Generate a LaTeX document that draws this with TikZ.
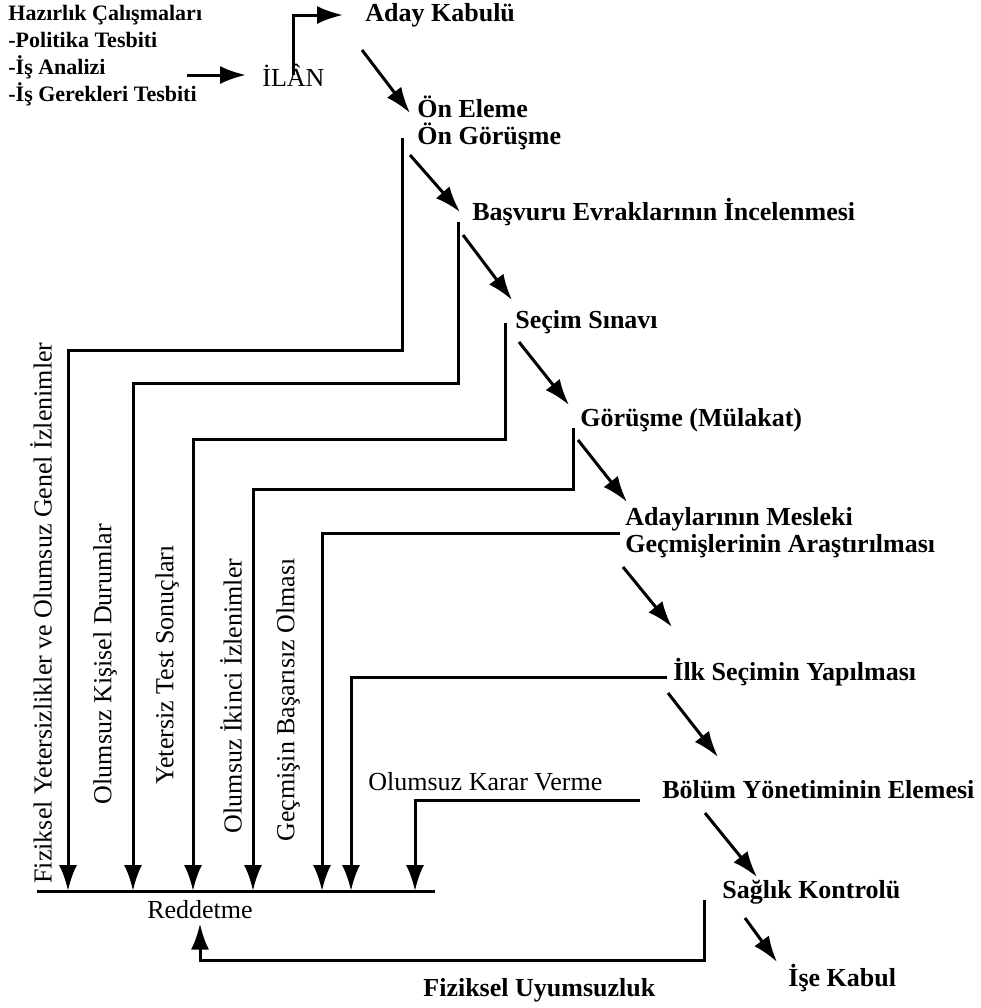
\documentclass[tikz,border=0pt]{standalone}
\usepackage{fontspec}
\setmainfont{Liberation Serif}
\usetikzlibrary{arrows.meta}

\begin{document}
\begin{tikzpicture}[x=0.5pt, y=-0.5pt]
		\tikzstyle{note}=[inner sep=0pt, font=\fontsize{13}{15}\selectfont]
		\tikzstyle{stage}=[note, anchor=west, align=left, font=\bfseries\fontsize{13}{13.5}\selectfont]
		\tikzstyle{reason}=[note, rotate=90]
		\tikzstyle{link}=[->, line width=1.5pt, >={Latex[length=13pt, width=9pt]}]
		\tikzstyle{wire}=[line width=1.5pt]

		\useasboundingbox (0,0) rectangle (981,1008);

		% main flow
		\node[stage, font=\bfseries\fontsize{11}{13.5}\selectfont] (hazirlik) at (8,56) {
			Hazırlık Çalışmaları\\-Politika Tesbiti\\-İş Analizi\\-İş Gerekleri Tesbiti
		};
		\node[note, anchor=west] (ilan) at (262,75) {İLÂN};
		\node[stage] (aday) at (365,15) {Aday Kabulü};
		\node[stage] (onEleme) at (417,123) {Ön Eleme\\Ön Görüşme};
		\node[stage] (basvuru) at (472,212) {Başvuru Evraklarının İncelenmesi};
		\node[stage] (secim) at (515,322) {Seçim Sınavı};
		\node[stage] (gorusme) at (580,420) {Görüşme (Mülakat)};
		\node[stage] (adaylar) at (625,533) {Adaylarının Mesleki\\Geçmişlerinin Araştırılması};
		\node[stage] (ilk) at (673,672) {İlk Seçimin Yapılması};
		\node[stage] (bolum) at (662,790) {Bölüm Yönetiminin Elemesi};
		\node[stage] (saglik) at (722,892) {Sağlık Kontrolü};
		\node[stage] (ise) at (788,978) {İşe Kabul};

		% reasons for rejection
		\node[reason] (fiziksel) at (41,613) {Fiziksel Yetersizlikler ve Olumsuz Genel İzlenimler};
		\node[reason] (kisisel) at (105,664) {Olumsuz Kişisel Durumlar};
		\node[reason] (yetersiz) at (167,665) {Yetersiz Test Sonuçları};
		\node[reason] (ikinci) at (231,696) {Olumsuz İkinci İzlenimler};
		\node[reason] (gecmis) at (288,700) {Geçmişin Başarısız Olması};
		\node[note, anchor=west] (karar) at (368,782) {Olumsuz Karar Verme};
		\node[stage] (uyumsuz) at (423,990) {Fiziksel Uyumsuzluk};
		\node[note] (reddetme) at (200,910) {Reddetme};

		\coordinate (redLeft) at (37,891);
		\coordinate (redRight) at (435,891);
		\coordinate (r1) at (68,891);
		\coordinate (r2) at (133,891);
		\coordinate (r3) at (193,891);
		\coordinate (r4) at (253,891);
		\coordinate (r5) at (322,891);
		\coordinate (r6) at (351,891);
		\coordinate (r7) at (415,891);

		\draw[link, shorten <=-8pt, shorten >=8pt] (hazirlik.east |- ilan.west) -- (ilan.west);
		\draw[link, shorten <=-6pt, shorten >=11pt] (ilan.north) |- (aday.west);

		\draw[link] ([shift={(-3,35)}]aday.west) -- ([shift={(-7,-10)}]onEleme.west);
		\draw[link] ([shift={(-7,32)}]onEleme.west) -- ([shift={(-12,0)}]basvuru.west);
		\draw[link] ([shift={(-9,23)}]basvuru.west) -- ([shift={(-3,-22)}]secim.west);
		\draw[link] ([shift={(4,20)}]secim.west) -- ([shift={(-11,-15)}]gorusme.west);
		\draw[link] ([shift={(-2,20)}]gorusme.west) -- ([shift={(2,-31)}]adaylar.west);
		\draw[link] ([shift={(-2,34)}]adaylar.west) -- ([shift={(-1,-45)}]ilk.west);
		\draw[link] ([shift={(-5,21)}]ilk.west) -- ([shift={(56,-33)}]bolum.west);
		\draw[link] ([shift={(43,23)}]bolum.west) -- ([shift={(35,-15)}]saglik.west);
		\draw[link] ([shift={(23,26)}]saglik.west) -- ([shift={(-11,-16)}]ise.west);

		% back to rejection
		\draw[wire] (redLeft) -- (redRight);
		\draw[link] ([shift={(-15,15)}]onEleme.west) -- ++(0,212) -| (r1);
		\draw[link] ([shift={(-14,10)}]basvuru.west) -- ++(0,161) -| (r2);
		\draw[link] ([shift={(-10,1)}]secim.west) -- ++(0,116) -| (r3);
		\draw[link] ([shift={(-7,8)}]gorusme.west) -- ++(0,61) -| (r4);
		\draw[link] ([shift={(-5,0)}]adaylar.west) -| (r5);
		\draw[link] ([shift={(-6,5)}]ilk.west) -| (r6);
		\draw[link] ([shift={(-22,10)}]bolum.west) -| (r7);
		\draw[link, shorten >=2pt] ([shift={(-18,8)}]saglik.west) -- ++(0,60) -| (reddetme.south);

	\end{tikzpicture}
\end{document}
